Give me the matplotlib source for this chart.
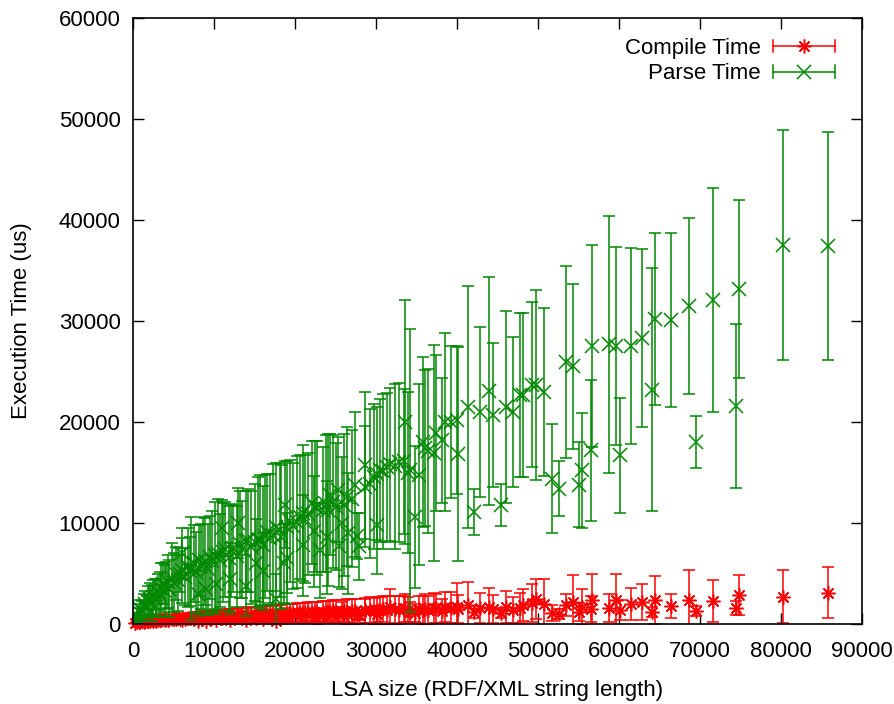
import matplotlib
matplotlib.use("Agg")
import matplotlib.pyplot as plt
from matplotlib.lines import Line2D
from matplotlib.legend_handler import HandlerBase

plt.rcParams['font.family'] = ['Liberation Sans', 'DejaVu Sans']

# LSA size (RDF/XML string length)
lsa_size = [300, 500, 700, 900, 1100, 1300, 1500, 1700, 1900, 2100,
            2300, 2500, 2700, 2900, 3100, 3300, 3500, 3700, 3900, 4100,
            4300, 4500, 4800, 5000, 5300, 5500, 5800, 6100, 6400, 6800,
            7000, 7200, 7500, 7800, 8100, 8400, 8700, 8900, 9200, 9500,
            9800, 10100, 10500, 10800, 11100, 11400, 11800, 12100, 12400, 12800,
            13200, 13500, 13900, 14200, 14600, 15000, 15400, 15700, 16000, 16300,
            16600, 16900, 17300, 17700, 18100, 18300, 18600, 19000, 19400, 19800,
            20200, 20600, 21000, 21200, 21600, 22100, 22500, 22700, 23100, 23500,
            23800, 24100, 24300, 24700, 25000, 25400, 25800, 26000, 26400, 27000,
            27400, 27600, 27900, 28600, 28700, 29200, 29700, 30100, 30100, 30500,
            30900, 31300, 31700, 32300, 32800, 33400, 33600, 34000, 34200, 34800,
            35300, 35800, 36100, 36400, 37100, 37400, 38100, 38500, 39300, 40000,
            40100, 41400, 42100, 42800, 44000, 44400, 45400, 46100, 46900, 47800,
            48200, 49200, 49800, 50700, 51700, 52600, 53400, 54300, 55000, 55400,
            56600, 56700, 58800, 59600, 60100, 61500, 62900, 64100, 64500, 66400,
            68600, 69500, 71600, 74400, 74800, 80200, 85800,
            6000, 9000, 11000, 12000, 13000, 14000, 16000, 17700, 19000, 21000,
            24000, 26500, 8000, 10300, 15200, 18800, 22300, 25300]

parse_mean = [600, 900, 1200, 1500, 1300, 1800, 2000, 1700, 2300, 2500,
              2100, 2700, 3000, 2600, 3200, 2900, 3600, 4000, 3300, 3800,
              4200, 3500, 4600, 4100, 5000, 4400, 5000, 5300, 4700, 5600,
              5200, 5500, 6000, 5100, 6300, 5700, 6000, 6200, 5400, 6600,
              6200, 6800, 6900, 6300, 7100, 7400, 6500, 7300, 7500, 6700,
              7900, 7400, 8200, 8300, 7600, 8100, 8400, 8300, 7800, 8700,
              9100, 8500, 8800, 9600, 9300, 8600, 6000, 9600, 10200, 9700,
              10100, 10600, 11000, 10400, 10900, 12000, 11600, 11500, 7300, 11300,
              11900, 11300, 12800, 12100, 11600, 7700, 10000, 11800, 12600, 12400,
              13800, 8700, 7700, 15700, 13600, 13900, 14600, 9800, 14900, 15200,
              15100, 15500, 15800, 15600, 16000, 16100, 20000, 15000, 15200, 10600,
              14800, 18000, 17400, 17100, 16900, 18900, 18200, 20000, 20000, 20200,
              16800, 21500, 11100, 21000, 23100, 20700, 11800, 21500, 21000, 22700,
              22700, 23700, 23700, 23000, 14400, 13400, 25900, 25500, 13800, 15200,
              17200, 27500, 27700, 27500, 16700, 27500, 28300, 23200, 30200, 30100,
              31500, 18000, 32100, 21600, 33200, 37500, 37400,
              7000, 3500, 9500, 4500, 10000, 3800, 5200, 2500, 6500, 7800,
              8600, 9000, 3000, 4000, 6000, 11800, 9200, 13300]

parse_err = [500, 700, 800, 900, 1000, 1200, 1300, 1100, 1500, 1600,
             1800, 1700, 1500, 1900, 1800, 2200, 2400, 2000, 2500, 2300,
             2600, 2800, 3400, 2900, 2600, 3100, 1800, 3200, 2800, 3900,
             3400, 5100, 3800, 4000, 3500, 4200, 4600, 4300, 4500, 4100,
             5000, 5300, 5500, 4600, 4900, 4700, 5200, 4600, 4300, 5000,
             5300, 4800, 5000, 5100, 5600, 5800, 6200, 6500, 5900, 6100,
             5800, 6400, 7000, 6300, 6600, 7100, 3900, 6500, 6000, 6200,
             6500, 6100, 6700, 6300, 6000, 6100, 6500, 6600, 4700, 6200,
             6800, 7500, 6000, 6600, 6300, 4000, 6500, 7000, 6900, 6800,
             7200, 2300, 3300, 7300, 6000, 7400, 7200, 4800, 6600, 7100,
             7700, 7400, 7600, 8200, 7900, 7200, 12100, 8000, 14000, 7000,
             9000, 8400, 7700, 8100, 10700, 7700, 6200, 8800, 7500, 7300,
             10600, 12000, 2300, 8400, 11300, 7100, 2100, 9500, 7400, 8100,
             8100, 8200, 9400, 8300, 5400, 2700, 9500, 8200, 4200, 5700,
             7000, 10000, 12700, 9800, 5700, 9700, 8800, 12000, 8500, 8600,
             8700, 2600, 11100, 8100, 8800, 11400, 11300,
             2500, 2500, 2800, 3500, 3500, 3000, 3800, 2500, 4500, 5000,
             5600, 6000, 2200, 3000, 4400, 4300, 5500, 5200]

compile_mean = [100, 150, 200, 180, 250, 220, 300, 260, 320, 280,
                350, 300, 380, 340, 400, 360, 420, 450, 380, 460,
                420, 500, 470, 520, 480, 550, 500, 580, 530, 600,
                560, 620, 580, 650, 600, 680, 640, 700, 660, 720,
                690, 750, 720, 780, 740, 800, 770, 820, 790, 850,
                810, 870, 840, 900, 860, 920, 880, 950, 900, 970,
                930, 1000, 950, 1020, 980, 1050, 700, 1000, 1080, 1030,
                1100, 1050, 1120, 1080, 1150, 1100, 1170, 1120, 800, 1200,
                1150, 1220, 1180, 1250, 1200, 850, 1150, 1270, 1230, 1300,
                1250, 900, 850, 1350, 1300, 1380, 1320, 1000, 1400, 1350,
                1450, 1400, 1700, 1450, 1400, 1500, 1550, 1350, 1200, 1100,
                1450, 1400, 1500, 1350, 1600, 1550, 1300, 1650, 1600, 1700,
                1500, 1900, 1200, 1600, 1700, 1500, 1100, 1700, 1400, 1600,
                1900, 2100, 2500, 2000, 1100, 1000, 1900, 2200, 1200, 1700,
                1500, 2400, 1600, 2400, 1400, 2000, 2200, 1200, 2400, 1800,
                2400, 1300, 2300, 1600, 2900, 2700, 3100,
                400, 300, 600, 350, 700, 400, 500, 300, 650, 700,
                800, 850, 250, 350, 550, 900, 750, 950]

compile_err = [80, 100, 120, 150, 150, 180, 200, 180, 220, 250,
               240, 260, 280, 300, 260, 320, 300, 350, 330, 340,
               380, 360, 400, 380, 420, 400, 450, 430, 470, 450,
               500, 480, 520, 500, 550, 530, 580, 560, 600, 580,
               620, 600, 650, 630, 680, 650, 700, 680, 720, 700,
               750, 730, 780, 760, 800, 780, 830, 800, 850, 830,
               880, 850, 900, 880, 930, 900, 500, 950, 920, 980,
               950, 1000, 980, 1030, 1000, 1050, 1020, 1080, 600, 1050,
               1100, 1080, 1130, 1100, 1150, 700, 1000, 1150, 1200, 1180,
               1220, 400, 500, 1250, 1200, 1300, 1280, 800, 1300, 1350,
               1300, 1400, 1800, 1350, 1400, 1300, 1450, 1300, 1000, 900,
               1350, 1400, 1500, 1400, 1500, 1450, 1200, 1500, 1550, 2400,
               1400, 2300, 600, 1500, 1900, 1400, 500, 1600, 1300, 1500,
               1600, 1900, 2000, 2500, 800, 500, 1100, 2700, 900, 1800,
               1300, 2600, 1400, 2600, 1000, 1600, 1800, 500, 2400, 1200,
               2900, 500, 2100, 700, 2000, 2600, 2500,
               300, 250, 400, 300, 450, 300, 400, 250, 500, 550,
               600, 650, 200, 300, 400, 700, 600, 750]

assert len(lsa_size) == len(parse_mean) == len(parse_err) == len(compile_mean) == len(compile_err)

x_ticks = [0, 10000, 20000, 30000, 40000, 50000, 60000, 70000, 80000, 90000]
y_ticks = [0, 10000, 20000, 30000, 40000, 50000, 60000]

red = '#ff0000'
green = '#008800'
LW = 1.1
FS = 16

fig = plt.figure(figsize=(8.94, 7.04), dpi=100)
ax = fig.add_axes([133/894, 80/704, 729/894, 606/704])

ax.errorbar(lsa_size, compile_mean, yerr=compile_err, fmt='none', ecolor=red,
            elinewidth=LW, capsize=4.3, capthick=LW)
ax.plot(lsa_size, compile_mean, linestyle='none', marker=(8, 2, 0), markersize=10,
        markeredgewidth=LW, color=red, clip_on=False)
ax.errorbar(lsa_size, parse_mean, yerr=parse_err, fmt='none', ecolor=green,
            elinewidth=LW, capsize=4.3, capthick=LW)
ax.plot(lsa_size, parse_mean, linestyle='none', marker='x', markersize=9.5,
        markeredgewidth=LW, color=green)


class ErrHandler(HandlerBase):
    def __init__(self, color, marker, ms):
        super().__init__()
        self.color = color
        self.marker = marker
        self.ms = ms

    def create_artists(self, legend, orig_handle, xdescent, ydescent, width,
                       height, fontsize, trans):
        yc = height / 2 - ydescent
        x0, x1 = -xdescent, width - xdescent
        line = Line2D([x0, x1], [yc, yc], color=self.color, lw=LW, transform=trans)
        c1 = Line2D([x0, x0], [yc - 4.5, yc + 4.5], color=self.color, lw=LW, transform=trans)
        c2 = Line2D([x1, x1], [yc - 4.5, yc + 4.5], color=self.color, lw=LW, transform=trans)
        m = Line2D([(x0 + x1) / 2], [yc], marker=self.marker, markersize=self.ms,
                   markeredgewidth=LW, color=self.color, linestyle='none', transform=trans)
        return [line, c1, c2, m]


hc = Line2D([], [])
hp = Line2D([], [])
leg = ax.legend([hc, hp], ['Compile Time', 'Parse Time'],
                handler_map={hc: ErrHandler(red, (8, 2, 0), 10),
                             hp: ErrHandler(green, 'x', 9.5)},
                loc='upper right', bbox_to_anchor=(0.991, 1.0), frameon=False,
                markerfirst=False, fontsize=FS, handlelength=2.8,
                handletextpad=0.55, labelspacing=0.2)

ax.set_xlim(0, 90000)
ax.set_ylim(0, 60000)
ax.set_xticks(x_ticks)
ax.set_yticks(y_ticks)
ax.tick_params(direction='in', length=8, width=1, labelsize=FS, top=True, right=True)
ax.tick_params(axis='x', pad=12)
ax.tick_params(axis='y', pad=9)
for s in ax.spines.values():
    s.set_linewidth(1.2)
ax.set_xlabel('LSA size (RDF/XML string length)', fontsize=FS, labelpad=13)
ax.set_ylabel('Execution Time (us)', fontsize=FS, labelpad=19)

fig.savefig('out.png', dpi=100)
